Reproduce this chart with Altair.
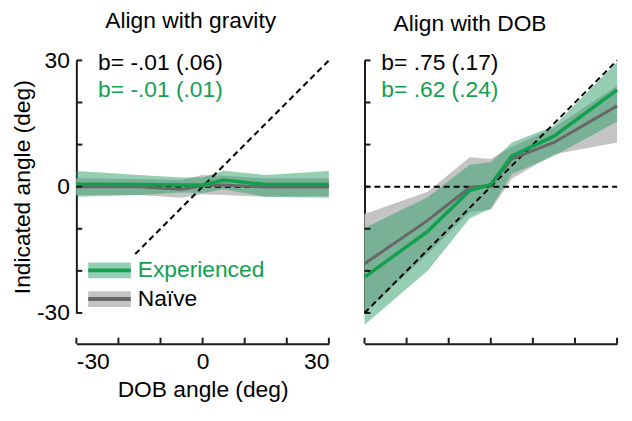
import altair as alt
import pandas as pd

# ---------------- data ----------------
x_vals = [-30, -15, -5, 0, 5, 15, 30]

grav_naive_mean = [0.0, 0.0, -0.6, 0.2, 0.4, -0.1, -0.1]
grav_naive_lo = [-2.0, -2.0, -2.6, -1.8, -2.0, -2.4, -2.2]
grav_naive_hi = [2.0, 1.8, 1.6, 2.8, 2.6, 2.0, 2.0]
grav_exp_mean = [0.6, 0.5, 0.4, 0.4, 1.6, 0.5, 0.5]
grav_exp_lo = [-2.4, -2.0, -1.4, -1.5, -0.6, -2.4, -2.6]
grav_exp_hi = [3.7, 2.8, 2.2, 2.2, 3.8, 2.8, 3.7]

dob_naive_mean = [-18.3, -8.0, -0.2, 0.3, 6.6, 10.5, 19.2]
dob_naive_lo = [-30.0, -16.0, -6.0, -5.5, 1.9, 7.7, 10.5]
dob_naive_hi = [-6.5, -1.2, 7.0, 6.6, 9.5, 14.0, 24.0]
dob_exp_mean = [-21.5, -10.6, -0.9, 0.5, 7.3, 12.0, 23.0]
dob_exp_lo = [-32.8, -20.0, -7.5, -5.2, 3.0, 7.3, 15.5]
dob_exp_hi = [-9.8, -2.5, 5.2, 5.8, 10.5, 14.4, 29.6]

tick_vals = [-30, -20, -10, 0, 10, 20, 30]
shown_labels = [-30, 0, 30]

grav_diag = [-16, 30]
dob_diag = [-30, 30]
zero_line = [-30, 30]

grav_notes = ["b= -.01 (.06)", "b= -.01 (.01)"]
dob_notes = ["b= .75 (.17)", "b= .62 (.24)"]
legend_names = ["Experienced", "Naïve"]

# ---------------- style ----------------
FONT = "Liberation Sans"
FS = 23
GREEN = "#12a04f"
GREEN_BAND = "#2c9e66"
GRAY = "#686868"
GRAY_BAND = "#c4c4c4"
AXC = "#1a1a1a"
W = H = 255
XOFF = 31

xs = alt.Scale(domain=[-30, 30], nice=False, zero=False)
ys = alt.Scale(domain=[-30, 30], nice=False, zero=False)
label_expr = "indexof([%s], datum.value) >= 0 ? ('' + datum.value) : ''" % ",".join(
    str(v) for v in shown_labels)


def make_axes(show):
    common = dict(values=tick_vals, ticks=False, grid=False, domainColor=AXC, domainWidth=2,
                  labelFont=FONT, labelFontSize=FS, labelColor="black",
                  titleFont=FONT, titleFontSize=FS, titleFontWeight="normal", titleColor="black",
                  labelExpr=label_expr)
    if show:
        xa = alt.Axis(title="DOB angle (deg)", offset=XOFF, labelPadding=7, titlePadding=5, **common)
        ya = alt.Axis(title="Indicated angle (deg)", labelPadding=7, titlePadding=2, **common)
    else:
        xa = alt.Axis(title=None, offset=XOFF, labels=False, **common)
        ya = alt.Axis(title=None, labels=False, **common)
    return xa, ya


def panel(nm, nlo, nhi, em, elo, ehi, diag, notes, note_x, title, dx, show, legend):
    xa, ya = make_axes(show)

    def X(f):
        return alt.X(f, type="quantitative", scale=xs, axis=xa)

    def Y(f):
        return alt.Y(f, type="quantitative", scale=ys, axis=ya)

    df = pd.DataFrame({"x": x_vals, "nm": nm, "nlo": nlo, "nhi": nhi,
                       "em": em, "elo": elo, "ehi": ehi})
    base = alt.Chart(df)
    n_band = base.mark_area(color=GRAY_BAND, opacity=1).encode(x=X("x"), y=Y("nlo"), y2="nhi")
    e_band = base.mark_area(color=GREEN_BAND, opacity=0.5).encode(x=X("x"), y=Y("elo"), y2="ehi")
    n_line = base.mark_line(color=GRAY, strokeWidth=3).encode(x=X("x"), y=Y("nm"))
    e_line = base.mark_line(color=GREEN, strokeWidth=3.5).encode(x=X("x"), y=Y("em"))

    ddf = pd.DataFrame({"x": diag, "y": diag})
    dline = alt.Chart(ddf).mark_line(color="black", strokeWidth=2, strokeDash=[6, 4]).encode(
        x=X("x"), y=Y("y"))
    zdf = pd.DataFrame({"x": zero_line, "y": [0, 0]})
    zline = alt.Chart(zdf).mark_line(color="black", strokeWidth=2, strokeDash=[6, 4]).encode(
        x=X("x"), y=Y("y"))

    tdf = pd.DataFrame({"v": tick_vals})
    yt = alt.Chart(tdf).mark_rule(color=AXC, strokeWidth=2).encode(
        y=Y("v"), x=alt.value(0), x2=alt.value(6))
    xt = alt.Chart(tdf).mark_rule(color=AXC, strokeWidth=2).encode(
        x=X("v"), y=alt.value(H + XOFF), y2=alt.value(H + XOFF - 6))

    ndf = pd.DataFrame({"t": notes, "c": ["black", GREEN], "yy": [3, 30]})
    note_layers = []
    for i in range(2):
        note_layers.append(
            alt.Chart(ndf.iloc[[i]]).mark_text(align="left", baseline="middle", font=FONT,
                                               fontSize=FS, color=ndf["c"][i]).encode(
                text="t:N", x=alt.value(note_x), y=alt.value(int(ndf["yy"][i]))))

    layers = [n_band, e_band, zline, dline, n_line, e_line, yt, xt] + note_layers

    if legend:
        ldf = pd.DataFrame({"name": legend_names})
        specs = [(0, 212, GREEN_BAND, 0.5, GREEN, GREEN), (1, 241, GRAY_BAND, 1.0, GRAY, "black")]
        for i, yc, bc, bo, lc, tc in specs:
            row = ldf.iloc[[i]]
            layers.append(alt.Chart(row).mark_rect(color=bc, opacity=bo).encode(
                x=alt.value(12), x2=alt.value(55), y=alt.value(yc - 8), y2=alt.value(yc + 8)))
            layers.append(alt.Chart(row).mark_rule(color=lc, strokeWidth=4).encode(
                x=alt.value(12), x2=alt.value(55), y=alt.value(yc)))
            layers.append(alt.Chart(row).mark_text(align="left", baseline="middle", font=FONT,
                                                   fontSize=FS, color=tc).encode(
                text="name:N", x=alt.value(62), y=alt.value(yc)))

    return alt.layer(*layers).properties(
        width=W, height=H,
        title=alt.TitleParams(title, font=FONT, fontSize=FS, fontWeight="normal", color="black",
                              frame="group", offset=17, dx=dx))


left = panel(grav_naive_mean, grav_naive_lo, grav_naive_hi, grav_exp_mean, grav_exp_lo, grav_exp_hi,
             grav_diag, grav_notes, 22, "Align with gravity", -12, True, True)
right = panel(dob_naive_mean, dob_naive_lo, dob_naive_hi, dob_exp_mean, dob_exp_lo, dob_exp_hi,
              dob_diag, dob_notes, 17, "Align with DOB", -21, False, False)

chart = alt.hconcat(left, right, spacing=36, bounds="flush").configure_view(stroke=None).properties(
    padding={"left": 3, "top": 0, "right": 0, "bottom": 0}, background="white")

chart.save("out.html", embed_options={"renderer": "svg", "actions": False})
